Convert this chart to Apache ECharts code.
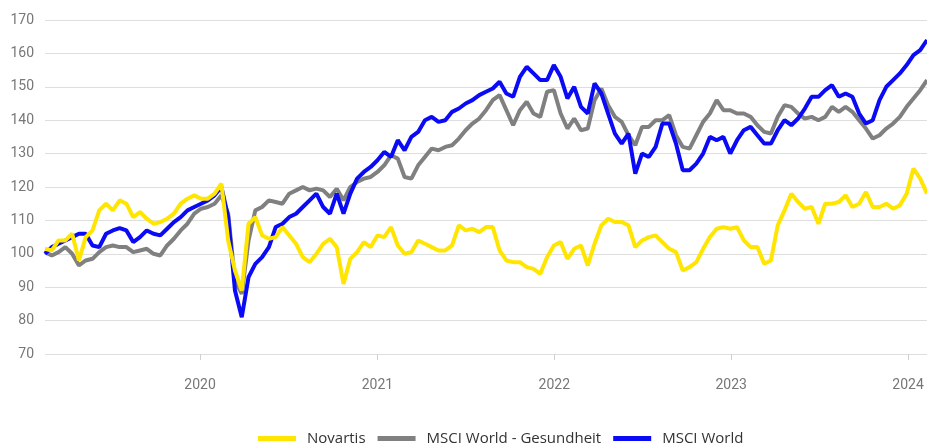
<!DOCTYPE html>
<html>
<head>
<meta charset="utf-8">
<script src="https://cdn.jsdelivr.net/npm/echarts@6/dist/echarts.min.js"></script>
<style>
  html, body { margin:0; padding:0; background:#fff; }
  #chart { width:927px; height:444px; }
</style>
</head>
<body>
<div id="chart"></div>
<script>
// biweekly readings, first one on 15 Feb 2019
const startDate = Date.UTC(2019, 1, 15);
const stepDays = 14;

const seriesNames = ['Novartis', 'MSCI World - Gesundheit', 'MSCI World'];

const novartis = [
  101.5, 101, 104, 104, 106, 98, 105, 107, 113, 115,
  113, 116, 115, 111, 112.5, 110.5, 109, 109.5, 110.5, 112,
  115, 116.5, 117.5, 116.5, 116.5, 118, 121, 104, 95, 89,
  109, 111, 105.5, 104.5, 105, 108, 105.5, 103, 99, 97.5,
  100, 103, 104.5, 102, 91, 98.5, 100.5, 103.5, 102, 105.5,
  105, 108, 102.5, 100, 100.5, 104, 103, 102, 101, 101,
  102.5, 108.5, 107, 107.5, 106.5, 108, 108, 101, 98, 97.5,
  97.5, 96, 95.5, 94, 99, 102.5, 103.5, 98.5, 101.5, 102.5,
  96.5, 103, 108.5, 110.5, 109.5, 109.5, 108.5, 102, 104, 105,
  105.5, 103.5, 101.5, 100.5, 95, 96, 97.5, 101.5, 105, 107.5,
  108, 107.5, 108, 104, 102, 102, 97, 98, 108.5, 113,
  118, 115.5, 113.5, 114, 109, 115, 115, 115.5, 117.5, 114,
  115, 118.5, 114, 114, 115, 113.5, 114.5, 118, 125.5, 122.5,
  118
];

const msciHealth = [
  100.5, 99.5, 100.5, 102, 100, 96.5, 98, 98.5, 100.5, 102,
  102.5, 102, 102, 100.5, 101, 101.5, 100, 99.5, 102.5, 104.5,
  107, 109, 112, 113.5, 114, 115, 117.5, 112, 92, 88,
  104, 113, 114, 116, 115.5, 115, 118, 119, 120, 119,
  119.5, 119, 117, 119.5, 116, 120, 121.5, 122.5, 123, 124.5,
  126.5, 129.5, 128.5, 123, 122.5, 126.5, 129, 131.5, 131, 132,
  132.5, 134.5, 137, 139, 140.5, 143, 146, 147.5, 143, 138.5,
  143, 145.5, 142, 141, 148.5, 149, 142, 137.5, 140.5, 137,
  137.5, 146, 149.5, 144.5, 141, 139.5, 135.5, 132.5, 138, 138,
  140, 140, 141.5, 135.5, 132, 131.5, 135.5, 139.5, 142, 146,
  143, 143, 142, 142, 141, 138.5, 136.5, 136, 141, 144.5,
  144, 142, 140.5, 141, 140, 141, 144, 142.5, 144, 142.5,
  140, 137.5, 134.5, 135.5, 137.5, 139, 141, 144, 146.5, 149,
  152
];

const msciWorld = [
  100, 102, 103, 104, 105, 106, 106, 102.5, 102, 106,
  107, 107.7, 107, 103.5, 105, 107, 106, 105.5, 107.5, 109.5,
  111, 113, 114, 115, 116, 117.5, 120, 111, 89, 81,
  93, 97, 99, 102, 108, 109, 111, 112, 114, 116,
  118, 114, 112, 118, 112, 118, 122.5, 124.5, 126, 128,
  130.5, 129, 134, 131, 135, 136.5, 140, 141, 139.5, 140,
  142.5, 143.5, 145, 146, 147.5, 148.5, 149.5, 151.5, 148, 147,
  153, 156, 154, 152, 152, 156.5, 153, 146.5, 150, 144,
  142, 151, 148, 142, 136, 133, 136, 124, 130, 129,
  132, 139, 139, 133, 125, 125, 127, 130, 135, 134,
  135, 130, 134, 137, 138, 135.5, 133, 133, 137, 140,
  138.5, 140.5, 143.5, 147, 147, 149, 150.5, 147, 148, 147,
  142, 139, 140, 146, 150, 152, 154, 156.5, 159.5, 161,
  164
];

const yTicks = [70, 170, 10];   // min, max, interval

function withDates(values) {
  return values.map(function (v, i) {
    return [startDate + i * stepDays * 86400000, v];
  });
}

function lineTypeCharts(elementId, colorCode) {
  let drawCharts = echarts.init(document.getElementById(elementId));
  let option = {
    animation: false,
    color: colorCode,
    textStyle: {
      fontFamily: 'Roboto'
    },
    grid: {
      left: 45,
      right: 0,
      top: 20,
      bottom: 90
    },
    legend: {
      data: seriesNames,
      top: 426,
      left: 253,
      icon: 'rect',
      itemWidth: 38,
      itemHeight: 5,
      itemGap: 12,
      textStyle: {
        color: '#333',
        fontSize: 15,
        fontFamily: 'Open Sans',
        padding: [0, 0, 0, 6]
      }
    },
    xAxis: {
      type: 'time',
      min: startDate,
      max: startDate + (novartis.length - 1) * stepDays * 86400000,
      minInterval: 365 * 86400000,
      maxInterval: 366 * 86400000,
      axisLine: { show: false },
      axisTick: {
        show: true,
        length: 6,
        lineStyle: { color: '#d0d0d0' }
      },
      splitLine: { show: false },
      axisLabel: {
        margin: 24,
        color: '#777',
        fontSize: 14,
        hideOverlap: false,
        formatter: function (val) {
          let d = new Date(val);
          if (d.getUTCMonth() === 0 && d.getUTCDate() === 1) {
            return String(d.getUTCFullYear());
          }
          return '';
        }
      }
    },
    yAxis: {
      type: 'value',
      min: yTicks[0],
      max: yTicks[1],
      interval: yTicks[2],
      axisLine: { show: false },
      axisTick: { show: false },
      axisLabel: {
        margin: 11,
        color: '#777',
        fontSize: 14
      },
      splitLine: {
        lineStyle: { color: '#dedede', width: 1 }
      }
    },
    series: [
      {
        name: seriesNames[2],
        type: 'line',
        showSymbol: false,
        z: 2,
        lineStyle: { width: 4, color: colorCode[2] },
        itemStyle: { color: colorCode[2] },
        data: withDates(msciWorld)
      },
      {
        name: seriesNames[1],
        type: 'line',
        showSymbol: false,
        z: 1,
        lineStyle: { width: 4, color: colorCode[1] },
        itemStyle: { color: colorCode[1] },
        data: withDates(msciHealth)
      },
      {
        name: seriesNames[0],
        type: 'line',
        showSymbol: false,
        z: 3,
        lineStyle: { width: 4, color: colorCode[0] },
        itemStyle: { color: colorCode[0] },
        data: withDates(novartis)
      }
    ]
  };
  drawCharts.setOption(option);
}

lineTypeCharts('chart', ['#ffe500', '#808080', '#0a0af5']);
</script>
</body>
</html>
